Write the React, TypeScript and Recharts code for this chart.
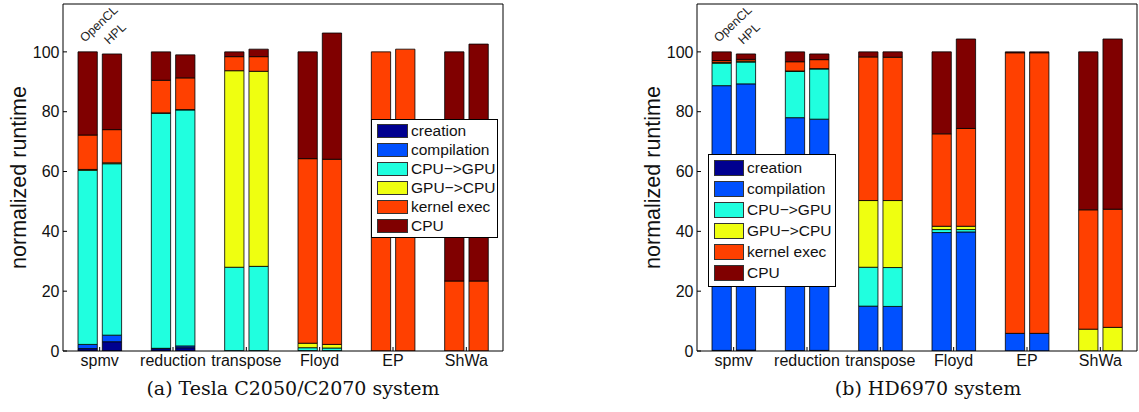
import React from 'react';
import { BarChart, Bar, XAxis, YAxis, LabelList } from 'recharts';

const benchmarks = ['spmv', 'reduction', 'transpose', 'Floyd', 'EP', 'ShWa'];
const components = ['creation', 'compilation', 'CPU−>GPU', 'GPU−>CPU', 'kernel exec', 'CPU'];
const colors = ['#00008f', '#0050ff', '#20ffdf', '#efff10', '#ff4000', '#800000'];
const yTicks = [0, 20, 40, 60, 80, 100];

// rows follow `components`, columns follow `benchmarks`
const teslaOpenCL = [
  [0.8, 0.8, 0, 0, 0, 0],
  [1.4, 0.1, 0.1, 0.1, 0, 0],
  [58.2, 78.6, 27.9, 1.0, 0, 0],
  [0.3, 0.1, 65.7, 1.5, 0, 0],
  [11.5, 10.9, 4.7, 61.7, 100, 23.4],
  [27.8, 9.5, 1.6, 35.7, 0, 76.6],
];
const teslaHPL = [
  [3.1, 1.1, 0, 0, 0, 0],
  [2.2, 0.6, 0.1, 0.1, 0, 0],
  [57.3, 78.9, 28.2, 0.9, 0, 0],
  [0.3, 0.1, 65.2, 1.2, 0, 0],
  [11.1, 10.6, 4.9, 61.9, 100.9, 23.4],
  [25.3, 7.7, 2.5, 42.2, 0, 79.2],
];
const hdOpenCL = [
  [0.2, 0.1, 0, 0, 0, 0],
  [88.5, 77.9, 15.0, 39.6, 5.9, 0],
  [7.5, 15.5, 13.0, 1.0, 0, 0],
  [0.3, 0.1, 22.3, 1.1, 0, 7.3],
  [0.6, 3.1, 48.0, 30.9, 93.8, 39.9],
  [2.9, 3.3, 1.7, 27.4, 0.3, 52.8],
];
const hdHPL = [
  [0.3, 0.2, 0, 0, 0, 0],
  [89.0, 77.3, 14.9, 39.8, 5.9, 0],
  [7.3, 16.8, 13.0, 0.8, 0, 0],
  [0.3, 0.1, 22.4, 1.1, 0, 7.9],
  [0.6, 3.0, 47.9, 32.7, 93.8, 39.5],
  [1.8, 1.9, 1.8, 29.9, 0.3, 56.9],
];

const sans = '"Liberation Sans", Arial, Helvetica, sans-serif';

function buildRows(ocl: number[][], hpl: number[][]) {
  return benchmarks.map((name, i) => {
    const row: Record<string, any> = { name };
    components.forEach((_, k) => {
      row['ocl' + k] = ocl[k][i];
      row['hpl' + k] = hpl[k][i];
    });
    return row;
  });
}

const implLabel = (text: string) => (props: any) => {
  if (props.index !== 0) return null;
  const x = Number(props.x) + Number(props.width) / 2 - 3;
  const y = Number(props.y) - 9;
  return (
    <text x={x} y={y} transform={`rotate(-43 ${x} ${y})`} fontSize={12.5} fill="#222" fontFamily={sans}>
      {text}
    </text>
  );
};

const yLabel = (props: any) => {
  const vb = props.viewBox;
  const x = vb.x + 19;
  const y = vb.y + vb.height / 2;
  return (
    <text x={x} y={y} transform={`rotate(-90 ${x} ${y})`} textAnchor="middle" dominantBaseline="central"
      fontSize={21.5} fill="#111" fontFamily={sans}>
      normalized runtime
    </text>
  );
};

interface LegendBoxProps {
  left: number;
  top: number;
  width: number;
  rowHeight: number;
  swatchW: number;
  swatchH: number;
}

const LegendBox: React.FC<LegendBoxProps> = ({ left, top, width, rowHeight, swatchW, swatchH }) => (
  <div style={{
    position: 'absolute', left, top, width, background: '#fff', border: '1px solid #000',
    boxSizing: 'border-box', padding: '2px 0 2px 5px', fontFamily: sans, fontSize: 15.5, color: '#111',
  }}>
    {components.map((c, k) => (
      <div key={c} style={{ display: 'flex', alignItems: 'center', height: rowHeight }}>
        <div style={{ width: swatchW, height: swatchH, background: colors[k], border: '1px solid #333', boxSizing: 'border-box', marginRight: 3 }} />
        <span style={{ whiteSpace: 'nowrap' }}>{c}</span>
      </div>
    ))}
  </div>
);

interface PanelProps {
  left: number;
  width: number;
  ocl: number[][];
  hpl: number[][];
}

const Panel: React.FC<PanelProps> = ({ left, width, ocl, hpl }) => {
  const data = buildRows(ocl, hpl);
  return (
    <div style={{ position: 'absolute', left, top: 0 }}>
      <BarChart width={width} height={400} data={data} barSize={19.3} barGap={5}
        margin={{ top: 3, right: width === 510 ? 6 : 1, bottom: 0, left: 0 }}>
        <XAxis dataKey="name" height={49} tickSize={-4} tickMargin={8} stroke="#000"
          tick={{ fontSize: 16, fill: '#111', fontFamily: sans }} interval={0} />
        <XAxis dataKey="name" xAxisId="top" orientation="top" height={1} tickSize={-4} tick={false} stroke="#000" />
        <YAxis domain={[0, 116]} ticks={yTicks} width={63} tickSize={-4} tickMargin={7.5} stroke="#000"
          tick={{ fontSize: 16, fill: '#111', fontFamily: sans }} label={{ content: yLabel }} allowDataOverflow />
        <YAxis yAxisId="r" orientation="right" domain={[0, 116]} ticks={yTicks} width={1} tickSize={-4}
          tick={false} stroke="#000" allowDataOverflow />
        {components.map((c, k) => (
          <Bar key={'ocl' + k} dataKey={'ocl' + k} stackId="ocl" fill={colors[k]} stroke="#000" strokeWidth={0.8}
            isAnimationActive={false}>
            {k === 5 && <LabelList dataKey={'ocl' + k} content={implLabel('OpenCL')} />}
          </Bar>
        ))}
        {components.map((c, k) => (
          <Bar key={'hpl' + k} dataKey={'hpl' + k} stackId="hpl" fill={colors[k]} stroke="#000" strokeWidth={0.8}
            isAnimationActive={false}>
            {k === 5 && <LabelList dataKey={'hpl' + k} content={implLabel('HPL')} />}
          </Bar>
        ))}
      </BarChart>
    </div>
  );
};

const captionStyle: React.CSSProperties = {
  position: 'absolute', top: 377, width: 400, textAlign: 'center',
  fontFamily: '"DejaVu Serif", "Liberation Serif", serif', fontSize: 19, color: '#111', whiteSpace: 'nowrap',
};

export default function App() {
  return (
    <div style={{ position: 'absolute', left: 0, top: 0, width: 1139, height: 412, background: '#fff', overflow: 'hidden' }}>
      <Panel left={0} width={510} ocl={teslaOpenCL} hpl={teslaHPL} />
      <Panel left={634} width={505} ocl={hdOpenCL} hpl={hdHPL} />
      <LegendBox left={371} top={119} width={127} rowHeight={18.9} swatchW={31} swatchH={14} />
      <LegendBox left={708} top={154} width={128} rowHeight={21.1} swatchW={30} swatchH={16} />
      <div style={{ ...captionStyle, left: 293 - 200 }}>(a) Tesla C2050/C2070 system</div>
      <div style={{ ...captionStyle, left: 928 - 200 }}>(b) HD6970 system</div>
    </div>
  );
}
